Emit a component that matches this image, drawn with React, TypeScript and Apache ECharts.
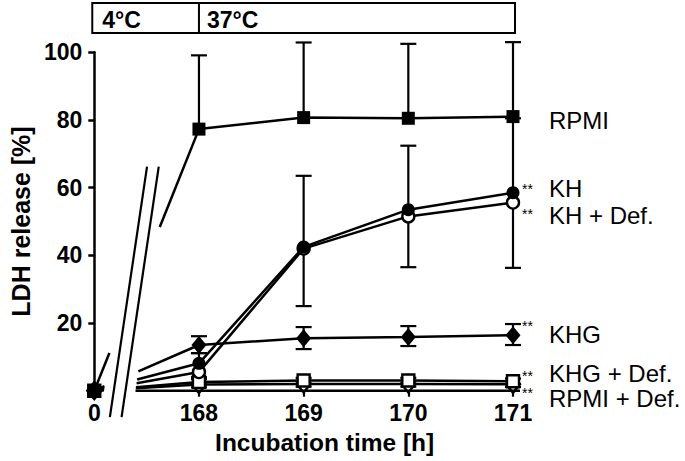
import React, { useEffect, useRef } from 'react';
import * as echarts from 'echarts';

// ---------- data ----------
const xTickLabels = ['0', '168', '169', '170', '171'];
const xPositions = [0, 1, 2, 3, 4];
const phaseLabels = ['4°C', '37°C'];

const rpmi = [0, 77.3, 80.7, 80.5, 81.0];
const rpmiUp = [0, 21.8, 22.2, 22.0, 22.0];
const rpmiDown = [0, 0, 0, 0, 0];

const kh = [0, 8.1, 42.5, 53.5, 58.5];
const khUp = [0, 3.0, 21.0, 18.9, 22.0];
const khDown = [0, 0, 0, 0, 0];

const khDef = [0, 5.5, 42.0, 51.5, 55.6];
const khDefUp = [0, 0, 0, 0, 0];
const khDefDown = [0, 1.5, 17.0, 15.0, 19.3];

const khg = [0, 13.5, 15.5, 15.9, 16.4];
const khgUp = [0, 2.6, 3.3, 3.2, 3.3];
const khgDown = [0, 2.4, 3.2, 2.7, 2.9];

const khgDef = [0, 2.6, 3.0, 3.0, 2.8];
const khgDefUp = [0, 0.8, 0.8, 0.8, 0.8];
const khgDefDown = [0, 0.8, 0.8, 0.8, 0.8];

const rpmiDef = [0, 1.8, 2.0, 2.0, 1.9];
const rpmiDefUp = [0, 0, 0, 0, 0];
const rpmiDefDown = [0, 0.8, 0.8, 0.8, 0.8];

// ---------- styling / layout ----------
const FONT = "'Liberation Sans', Arial, Helvetica, sans-serif";
const BLACK = '#000';

// axis break (data-space anchors of the left stroke)
const BREAK_TOP = [0.504, 66.2];
const BREAK_BOTTOM = [0.149, -7.8];
const BREAK_PAIR_PX = 11.7;
const BREAK_GAP_PX = 10;
const AXIS_OVERHANG_PX = 7;

type Def = {
  name: string;
  values: number[];
  up: number[];
  down: number[];
  symbol: string;
  size: number | number[];
  filled: boolean;
  stars: boolean;
  labelDy: number;
  starDy: number;
};

// drawn in this order (later on top)
const defs: Def[] = [
  { name: 'RPMI + Def.', values: rpmiDef, up: rpmiDefUp, down: rpmiDefDown, symbol: 'diamond', size: [14, 17], filled: false, stars: true, labelDy: 14, starDy: 9 },
  { name: 'KHG + Def.', values: khgDef, up: khgDefUp, down: khgDefDown, symbol: 'rect', size: 12, filled: false, stars: true, labelDy: -8, starDy: -5.6 },
  { name: 'KH + Def.', values: khDef, up: khDefUp, down: khDefDown, symbol: 'circle', size: 12, filled: false, stars: true, labelDy: 12.5, starDy: 11 },
  { name: 'KHG', values: khg, up: khgUp, down: khgDown, symbol: 'diamond', size: [15, 18], filled: true, stars: true, labelDy: -0.5, starDy: -9.6 },
  { name: 'KH', values: kh, up: khUp, down: khDown, symbol: 'circle', size: 13, filled: true, stars: true, labelDy: -4, starDy: -4 },
  { name: 'RPMI', values: rpmi, up: rpmiUp, down: rpmiDown, symbol: 'rect', size: 13, filled: true, stars: false, labelDy: 3.5, starDy: 0 },
];

function intersect(p0: number[], p1: number[], a: number[], b: number[]) {
  const dx = p1[0] - p0[0], dy = p1[1] - p0[1];
  const ex = b[0] - a[0], ey = b[1] - a[1];
  const den = dx * ey - dy * ex;
  const t = ((a[0] - p0[0]) * ey - (a[1] - p0[1]) * ex) / den;
  return [p0[0] + t * dx, p0[1] + t * dy];
}

function buildOption() {
  const lineSeries = defs.map((d) => ({
    type: 'line',
    name: d.name,
    data: [
      [xPositions[0], d.values[0]],
      [(xPositions[0] + xPositions[1]) / 2, '-'],
      ...xPositions.slice(1).map((x, i) => [x, d.values[i + 1]]),
    ],
    connectNulls: false,
    symbol: d.symbol,
    symbolSize: d.size,
    showSymbol: true,
    showAllSymbol: true,
    lineStyle: { color: BLACK, width: 2.5 },
    itemStyle: d.filled
      ? { color: BLACK, borderColor: BLACK, borderWidth: 0 }
      : { color: '#fff', borderColor: BLACK, borderWidth: 2.4 },
    emphasis: { disabled: true },
    silent: true,
    z: 3,
  }));

  const errData: number[][] = [];
  defs.forEach((d) => {
    xPositions.slice(1).forEach((x, i) => {
      errData.push([x, d.values[i + 1], d.up[i + 1], d.down[i + 1]]);
    });
  });

  const errorSeries = {
    type: 'custom',
    name: 'errors',
    coordinateSystem: 'cartesian2d',
    data: errData,
    encode: { x: 0, y: 1 },
    silent: true,
    z: 2,
    renderItem: (params: any, api: any) => {
      const x = api.value(0), y = api.value(1), up = api.value(2), dn = api.value(3);
      const p = api.coord([x, y]);
      const cw = 8;
      const style = { stroke: BLACK, lineWidth: 2.2 };
      const children: any[] = [];
      if (up > 0) {
        const h = api.coord([x, y + up]);
        children.push({ type: 'line', shape: { x1: p[0], y1: p[1], x2: h[0], y2: h[1] }, style });
        children.push({ type: 'line', shape: { x1: p[0] - cw, y1: h[1], x2: p[0] + cw, y2: h[1] }, style });
      }
      if (dn > 0) {
        const l = api.coord([x, y - dn]);
        children.push({ type: 'line', shape: { x1: p[0], y1: p[1], x2: l[0], y2: l[1] }, style });
        children.push({ type: 'line', shape: { x1: p[0] - cw, y1: l[1], x2: p[0] + cw, y2: l[1] }, style });
      }
      return { type: 'group', children };
    },
  };

  const bridgeSeries = {
    type: 'custom',
    name: 'bridge',
    coordinateSystem: 'cartesian2d',
    data: defs.map((d) => [d.values[0], d.values[1]]),
    encode: { y: [0, 1] },
    silent: true,
    z: 3,
    renderItem: (params: any, api: any) => {
      const v0 = api.value(0), v1 = api.value(1);
      const p0 = api.coord([xPositions[0], v0]);
      const p1 = api.coord([xPositions[1], v1]);
      const t = api.coord(BREAK_TOP), b = api.coord(BREAK_BOTTOM);
      const lT = [t[0] - BREAK_GAP_PX, t[1]], lB = [b[0] - BREAK_GAP_PX, b[1]];
      const off = BREAK_PAIR_PX + BREAK_GAP_PX;
      const rT = [t[0] + off, t[1]], rB = [b[0] + off, b[1]];
      const q1 = intersect(p0, p1, lT, lB);
      const q2 = intersect(p0, p1, rT, rB);
      const style = { stroke: BLACK, lineWidth: 2.5 };
      return {
        type: 'group',
        children: [
          { type: 'line', shape: { x1: p0[0], y1: p0[1], x2: q1[0], y2: q1[1] }, style },
          { type: 'line', shape: { x1: q2[0], y1: q2[1], x2: p1[0], y2: p1[1] }, style },
        ],
      };
    },
  };

  const breakSeries = {
    type: 'custom',
    name: 'break',
    coordinateSystem: 'cartesian2d',
    data: [[0, 0]],
    silent: true,
    z: 4,
    renderItem: (params: any, api: any) => {
      const t = api.coord(BREAK_TOP), b = api.coord(BREAK_BOTTOM);
      const z0 = api.coord([xPositions[0], 0]);
      const z4 = api.coord([xPositions[4], 0]);
      const off = BREAK_PAIR_PX + BREAK_GAP_PX;
      const q = intersect(z0, z4, [t[0] + off, t[1]], [b[0] + off, b[1]]);
      const style = { stroke: BLACK, lineWidth: 2.2 };
      return {
        type: 'group',
        children: [
          { type: 'line', shape: { x1: t[0], y1: t[1], x2: b[0], y2: b[1] }, style },
          { type: 'line', shape: { x1: t[0] + BREAK_PAIR_PX, y1: t[1], x2: b[0] + BREAK_PAIR_PX, y2: b[1] }, style },
          { type: 'line', shape: { x1: q[0], y1: q[1], x2: z4[0] + AXIS_OVERHANG_PX, y2: z4[1] }, style: { stroke: BLACK, lineWidth: 2.5 } },
        ],
      };
    },
  };

  return {
    animation: false,
    backgroundColor: '#fff',
    grid: { left: 90, right: 172, top: 52.3, bottom: 70.3, containLabel: false },
    xAxis: {
      type: 'value',
      min: 0,
      max: 4,
      interval: 1,
      axisLine: { show: false },
      axisTick: { show: true, length: 6, lineStyle: { color: BLACK, width: 2.2 } },
      axisLabel: {
        formatter: (v: number) => xTickLabels[Math.round(v)] ?? '',
        color: BLACK,
        fontSize: 23,
        fontWeight: 'bold',
        fontFamily: FONT,
        margin: 11,
      },
      splitLine: { show: false },
      name: 'Incubation time [h]',
      nameLocation: 'middle',
      nameGap: 36,
      nameTextStyle: { color: BLACK, fontSize: 24.5, fontWeight: 'bold', fontFamily: FONT, padding: [0, 0, 0, 42] },
    },
    yAxis: {
      type: 'value',
      min: 0,
      max: 100,
      interval: 20,
      axisLine: { show: true, lineStyle: { color: BLACK, width: 2.5 } },
      axisTick: { show: true, length: 6, lineStyle: { color: BLACK, width: 2.5 } },
      axisLabel: {
        formatter: (v: number) => (v === 0 ? '' : String(v)),
        color: BLACK,
        fontSize: 23,
        fontWeight: 'bold',
        fontFamily: FONT,
        margin: 12,
      },
      splitLine: { show: false },
      name: 'LDH release [%]',
      nameLocation: 'middle',
      nameGap: 61,
      nameTextStyle: { color: BLACK, fontSize: 25, fontWeight: 'bold', fontFamily: FONT },
    },
    series: [errorSeries, bridgeSeries, ...lineSeries, breakSeries],
  };
}

export default function App() {
  const ref = useRef<HTMLDivElement>(null);
  useEffect(() => {
    if (!ref.current) return;
    const chart = echarts.init(ref.current, null, { renderer: 'svg' });
    chart.setOption(buildOption() as any);

    const toPx = (x: number, y: number) => chart.convertToPixel({ gridIndex: 0 }, [x, y]) as number[];
    const a = toPx(xPositions[0], 100);
    const m = toPx(xPositions[1], 100);
    const e = toPx(xPositions[4], 100);
    const boxTop = 3, boxH = 30;
    const graphics: any[] = [
      { type: 'rect', shape: { x: a[0] - 2, y: boxTop, width: e[0] + 2 - (a[0] - 2), height: boxH }, style: { fill: 'none', stroke: BLACK, lineWidth: 2 } },
      { type: 'line', shape: { x1: m[0], y1: boxTop, x2: m[0], y2: boxTop + boxH }, style: { stroke: BLACK, lineWidth: 2 } },
      { type: 'text', x: a[0] + 8, y: boxTop + boxH / 2 + 2, style: { text: phaseLabels[0], fontSize: 23, fontWeight: 'bold', fontFamily: FONT, fill: BLACK, verticalAlign: 'middle', align: 'left' } },
      { type: 'text', x: m[0] + 8, y: boxTop + boxH / 2 + 2, style: { text: phaseLabels[1], fontSize: 23, fontWeight: 'bold', fontFamily: FONT, fill: BLACK, verticalAlign: 'middle', align: 'left' } },
    ];
    defs.forEach((d) => {
      const last = d.values.length - 1;
      const p = toPx(xPositions[last], d.values[last]);
      graphics.push({ type: 'text', x: p[0] + 36, y: p[1] + d.labelDy, style: { text: d.name, fontSize: 24, fontFamily: FONT, fill: BLACK, verticalAlign: 'middle', align: 'left' } });
      if (d.stars) {
        graphics.push({ type: 'text', x: p[0] + 9, y: p[1] + d.starDy, style: { text: '**', fontSize: 14, lineHeight: 6, fontFamily: FONT, fill: BLACK, verticalAlign: 'middle', align: 'left' } });
      }
    });
    chart.setOption({ graphic: graphics });
    return () => chart.dispose();
  }, []);
  return <div ref={ref} style={{ position: 'fixed', left: 0, top: 0, width: 685, height: 461, background: '#fff' }} />;
}
